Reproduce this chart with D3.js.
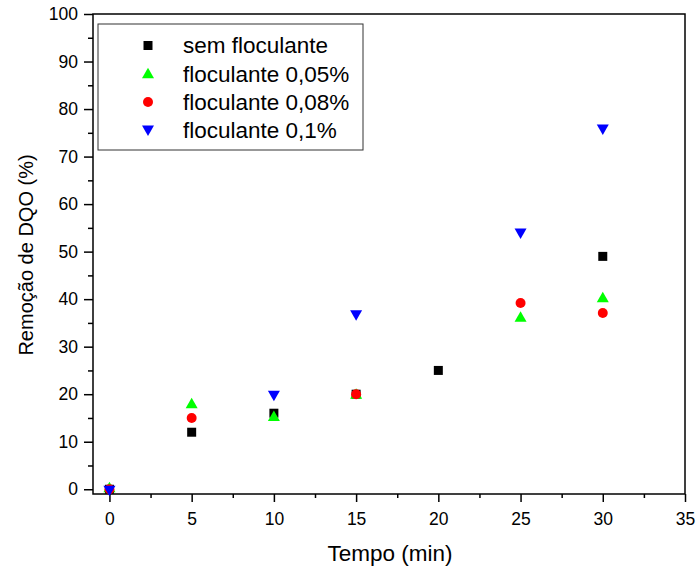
<!DOCTYPE html>
<html>
<head>
<meta charset="utf-8">
<script src="https://cdn.jsdelivr.net/npm/d3@7"></script>
<style>
  body { margin: 0; background: #fff; }
  text { font-family: "Liberation Sans", Arial, sans-serif; fill: #000; }
</style>
</head>
<body>
<div id="chart"></div>
<script>
// données
const semX = [0, 5, 10, 15, 20, 30];
const semY = [0, 12, 16, 20, 25, 49];
const f005X = [0, 5, 10, 15, 25, 30];
const f005Y = [0.3, 18, 15.3, 20, 36.2, 40.3];
const f008X = [0, 5, 15, 25, 30];
const f008Y = [0, 15, 20, 39.2, 37.1];
const f01X = [0, 10, 15, 25, 30];
const f01Y = [-0.2, 19.8, 36.7, 53.9, 75.8];
const xTicks = [0, 5, 10, 15, 20, 25, 30, 35];
const yTicks = [0, 10, 20, 30, 40, 50, 60, 70, 80, 90, 100];

const series = [
  { name: "sem floculante", xs: semX, ys: semY, color: "#000000", shape: "square" },
  { name: "floculante 0,05%", xs: f005X, ys: f005Y, color: "#00ff00", shape: "up" },
  { name: "floculante 0,08%", xs: f008X, ys: f008Y, color: "#ff0000", shape: "circle" },
  { name: "floculante 0,1%", xs: f01X, ys: f01Y, color: "#0000ff", shape: "down" }
];

const W = 698, H = 568;
const margin = { top: 14, right: 13, bottom: 74, left: 93 };
const width = W - margin.left - margin.right;
const height = H - margin.top - margin.bottom;

const svg = d3.select("#chart").append("svg")
  .attr("width", W).attr("height", H);
const g = svg.append("g")
  .attr("transform", `translate(${margin.left},${margin.top})`);

const x = d3.scaleLinear().domain([-1, 35]).range([0, width]);
const y = d3.scaleLinear().domain([-1, 100]).range([height, 0]);

// symboles
function symbolPath(shape) {
  if (shape === "square") return "M-4.5,-4.5H4.5V4.5H-4.5Z";
  if (shape === "up") return "M0,-6L6,4.5L-6,4.5Z";
  if (shape === "down") return "M0,6L6,-4.5L-6,-4.5Z";
  return d3.symbol(d3.symbolCircle, 78)();
}

// axe X (graduations principales + secondaires)
g.append("g").attr("transform", `translate(0,${height})`)
  .call(d3.axisBottom(x).tickValues(xTicks).tickSize(8).tickPadding(11));
g.append("g").attr("transform", `translate(0,${height})`)
  .call(d3.axisBottom(x).tickValues(d3.range(2.5, 35, 5)).tickSize(4).tickFormat(""));

g.append("g")
  .call(d3.axisLeft(y).tickValues(yTicks).tickSize(9).tickPadding(6));
g.append("g")
  .call(d3.axisLeft(y).tickValues(d3.range(5, 100, 10)).tickSize(5).tickFormat(""));

g.selectAll(".tick line").attr("stroke", "#000").attr("stroke-width", 1.5);
g.selectAll(".domain").remove();
g.selectAll(".tick text").style("font-size", "17.5px")
  .style("font-family", "'Liberation Sans', Arial, sans-serif");

// cadre
g.append("rect").attr("x", 0).attr("y", 0)
  .attr("width", width).attr("height", height)
  .attr("fill", "none").attr("stroke", "#000").attr("stroke-width", 1.5);

// points
series.forEach(s => {
  g.append("g").selectAll("path")
    .data(s.xs.map((v, i) => [v, s.ys[i]]))
    .join("path")
    .attr("d", symbolPath(s.shape))
    .attr("transform", d => `translate(${x(d[0])},${y(d[1])})`)
    .attr("fill", s.color);
});

// légende
const legend = g.append("g").attr("transform", "translate(5,10)");
legend.append("rect")
  .attr("width", 265).attr("height", 126)
  .attr("fill", "#fff").attr("stroke", "#333").attr("stroke-width", 1);
series.forEach((s, i) => {
  const row = legend.append("g").attr("transform", `translate(0,${21.5 + i * 28.2})`);
  row.append("path").attr("d", symbolPath(s.shape))
    .attr("transform", "translate(50,0)").attr("fill", s.color);
  row.append("text").attr("x", 85).attr("dy", "0.35em")
    .style("font-size", "22.5px").text(s.name);
});

// titres des axes
svg.append("text")
  .attr("x", 390).attr("y", 561)
  .attr("text-anchor", "middle").style("font-size", "22.5px")
  .text("Tempo (min)");
svg.append("text")
  .attr("transform", `translate(33,255) rotate(-90)`)
  .attr("text-anchor", "middle").style("font-size", "20px")
  .text("Remoção de DQO (%)");
</script>
</body>
</html>
